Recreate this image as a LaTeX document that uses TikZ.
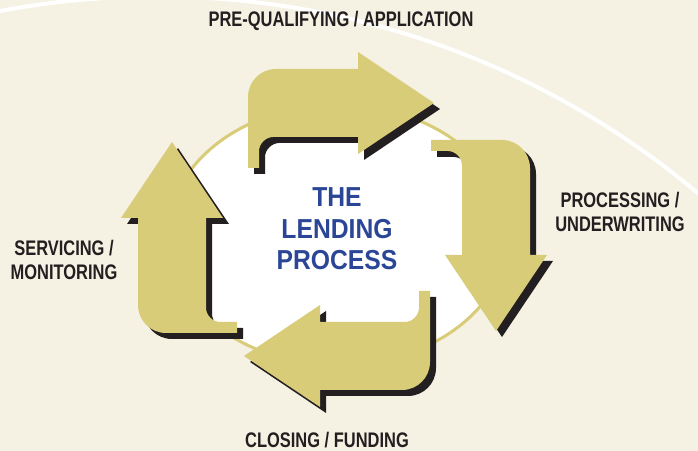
\documentclass[tikz,border=0pt]{standalone}
\usepackage{fontspec}
\setmainfont{Liberation Sans}
\newfontfamily\capfont[FakeStretch=0.78]{Liberation Sans}
\newfontfamily\titlefont[FakeStretch=0.9]{Liberation Sans}
\usetikzlibrary{positioning}

\definecolor{cream}{RGB}{245,241,227}
\definecolor{khaki}{RGB}{216,204,120}
\definecolor{darkshadow}{RGB}{35,31,32}
\definecolor{lendblue}{RGB}{43,70,150}

% bent arrow pointing along +x, outer corner at the origin; #1 = where the head starts
\newcommand{\bentpath}[1]{(0,99) -- (0,28) .. controls (0,12.5) and (12.5,0) .. (28,0)
  -- (#1,0) -- (#1,-17) -- ({#1+76},34) -- (#1,85) -- (#1,68) -- (25,68)
  .. controls (17.8,68) and (11,74.8) .. (11,82) -- (11,99) -- cycle}

\begin{document}
\begin{tikzpicture}[x=0.025cm,y=-0.025cm]
        \tikzstyle{lbl}=[font=\capfont\bfseries\fontsize{15}{16.8}\selectfont,text=darkshadow,align=center,inner sep=0pt]
        \tikzstyle{title}=[font=\titlefont\bfseries\fontsize{19.5}{22.5}\selectfont,text=lendblue,align=center,inner sep=0pt]
        \fill[cream] (0,0) rectangle (698,451);
        \useasboundingbox (0,0) rectangle (698,451);
        % white sweep across the upper right
        \begin{scope}
            \clip (0,0) rectangle (698,451);
            \draw[white,line width=1mm] (156.7,839.1) circle[radius=21.06cm];
        \end{scope}
        \draw[khaki,line width=0.75mm,fill=white] (338,235) ellipse [x radius=4.25cm,y radius=3.25cm];
        % shadows first, then the four arrows
        \foreach \cx/\cy/\ang/\len in {248/69/0/110, 530/140/-90/115, 430/390/180/110, 138/333/90/115}
            \fill[darkshadow,shift={(6,6)},shift={(\cx,\cy)},rotate=\ang] \bentpath{\len};
        \foreach \cx/\cy/\ang/\len in {248/69/0/110, 530/140/-90/115, 430/390/180/110, 138/333/90/115}
            \fill[khaki,shift={(\cx,\cy)},rotate=\ang] \bentpath{\len};
        \node[title] (lending) at (337,229) {THE\\LENDING\\PROCESS};
        \node[lbl] (prequal) at (341,20.5) {PRE-QUALIFYING / APPLICATION};
        \node[lbl] (processing) at (620,212) {PROCESSING /\\UNDERWRITING};
        \node[lbl] (closing) at (327,440) {CLOSING / FUNDING};
        \node[lbl] (servicing) at (64,260) {SERVICING /\\MONITORING};
\end{tikzpicture}
\end{document}
